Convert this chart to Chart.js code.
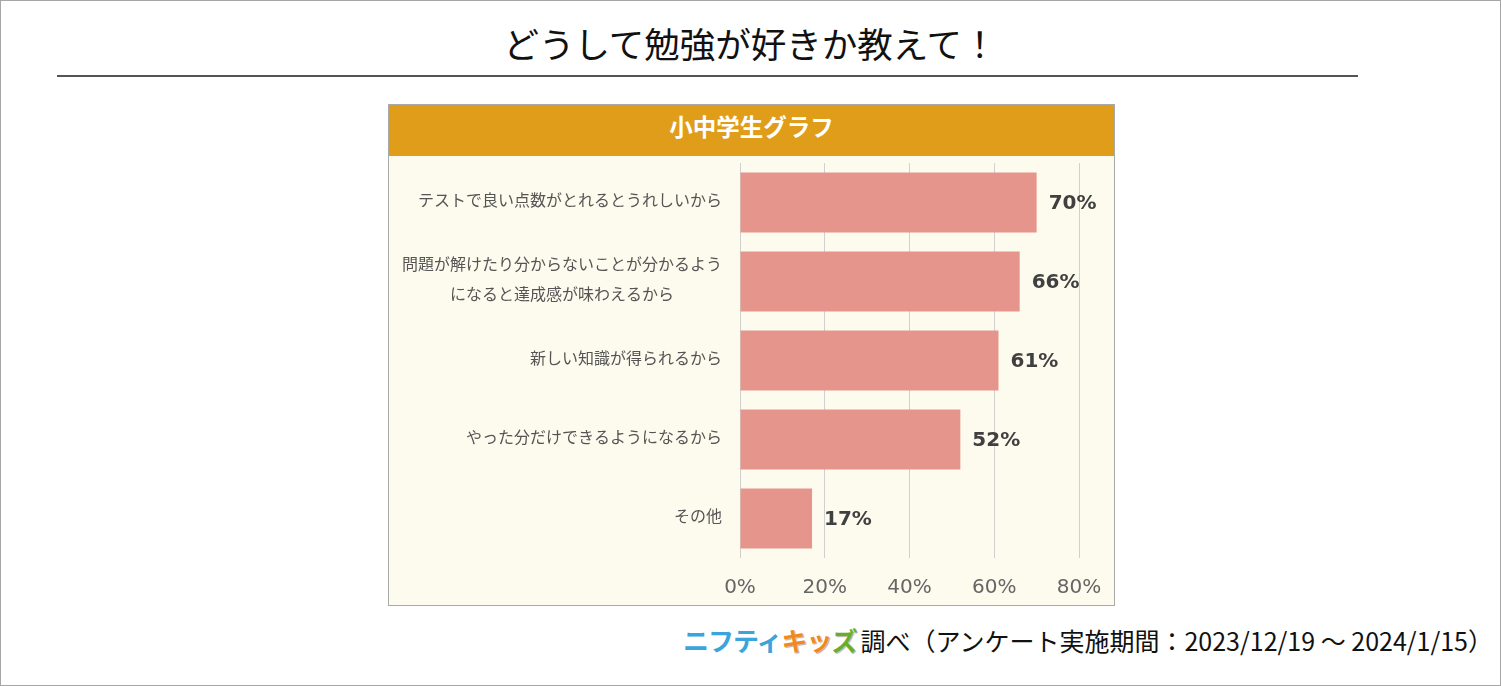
<!DOCTYPE html>
<html lang="ja">
<head>
<meta charset="utf-8">
<title>どうして勉強が好きか教えて！</title>
<script src="https://cdn.jsdelivr.net/npm/chart.js@4/dist/chart.umd.min.js"></script>
<style>
  html, body { margin: 0; padding: 0; background: #fff; }
  .page {
    position: relative; width: 1501px; height: 686px; box-sizing: border-box;
    border: 1px solid #a6a6a6; font-family: "Noto Sans CJK JP", "Noto Sans", sans-serif;
  }
  .title {
    position: absolute; left: 0; right: 0; top: 17px; text-align: center;
    font-size: 35.5px; line-height: 50px; color: #111;
  }
  .rule { position: absolute; left: 56px; width: 1301px; top: 74px; height: 0; border-top: 2px solid #555; }
  .box {
    position: absolute; left: 387px; top: 103px; width: 727px; height: 502px; box-sizing: border-box;
    border: 1px solid #a9a9a9; background: #fdfbee;
  }
  .box-head {
    height: 51px; background: #e09d1a; color: #fff; text-align: center;
    font-size: 23.5px; font-weight: 700; line-height: 43px;
  }
  .chart-wrap { position: relative; width: 724px; height: 448px; }
  .footer {
    position: absolute; right: 7px; top: 619px; font-size: 25px; line-height: 40px; color: #111;
    white-space: nowrap;
  }
  .logo { font-weight: 700; font-size: 26px; letter-spacing: -1px; margin-right: 4px; }
  .logo .n { color: #3ba4dc; }
  .logo .k { color: #f08a1e; text-shadow: 0 0 2px #fff, 1px 1px 1px #9a9a9a; }
  .logo .z { color: #69ad2b; text-shadow: 0 0 2px #fff, 1px 1px 1px #9a9a9a; }
</style>
</head>
<body>
<div class="page">
  <div class="title">どうして勉強が好きか教えて！</div>
  <div class="rule"></div>
  <div class="box">
    <div class="box-head">小中学生グラフ</div>
    <div class="chart-wrap"><canvas id="reasonChart"></canvas></div>
  </div>
  <div class="footer"><span class="logo"><span class="n">ニフティ</span><span class="k">キッ</span><span class="z">ズ</span></span>調べ（アンケート実施期間：2023/12/19 ～ 2024/1/15）</div>
</div>
<script>
const categories = [
  'テストで良い点数がとれるとうれしいから',
  ['問題が解けたり分からないことが分かるよう', 'になると達成感が味わえるから'],
  '新しい知識が得られるから',
  'やった分だけできるようになるから',
  'その他'
];
const percentValues = [70, 66, 61, 52, 17];
const axisTicks = [0, 20, 40, 60, 80];

// category labels: right edge at a fixed x, multi-line blocks centered
const categoryLabels = {
  id: 'categoryLabels',
  afterDraw(chart) {
    const ctx = chart.ctx;
    const y = chart.scales.y;
    const right = chart.chartArea.left - 18;
    ctx.save();
    ctx.font = '16px "Noto Sans CJK JP", sans-serif';
    ctx.fillStyle = '#555';
    ctx.textBaseline = 'middle';
    ctx.textAlign = 'center';
    categories.forEach((label, i) => {
      const lines = Array.isArray(label) ? label : [label];
      const maxW = Math.max(...lines.map(l => ctx.measureText(l).width));
      const cx = right - maxW / 2;
      const cy = y.getPixelForTick(i) - 3;
      lines.forEach((l, j) => {
        ctx.fillText(l, cx, cy + (j - (lines.length - 1) / 2) * 30);
      });
    });
    ctx.restore();
  }
};

const valueLabels = {
  id: 'valueLabels',
  afterDatasetsDraw(chart) {
    const ctx = chart.ctx;
    const meta = chart.getDatasetMeta(0);
    ctx.save();
    ctx.font = 'bold 20px "DejaVu Sans", sans-serif';
    ctx.fillStyle = '#404040';
    ctx.textAlign = 'left';
    ctx.textBaseline = 'middle';
    meta.data.forEach((bar, i) => {
      ctx.fillText(percentValues[i] + '%', bar.x + 12, bar.y + 1);
    });
    ctx.restore();
  }
};

new Chart(document.getElementById('reasonChart'), {
  type: 'bar',
  data: {
    labels: categories,
    datasets: [{
      data: percentValues,
      backgroundColor: '#e5958b',
      barPercentage: 0.76,
      categoryPercentage: 1
    }]
  },
  options: {
    indexAxis: 'y',
    responsive: true,
    maintainAspectRatio: false,
    animation: false,
    layout: { padding: { top: 7, right: 34, left: 0, bottom: 0 } },
    plugins: { legend: { display: false }, tooltip: { enabled: false } },
    scales: {
      x: {
        min: axisTicks[0],
        max: axisTicks[axisTicks.length - 1],
        afterBuildTicks: s => { s.ticks = axisTicks.map(v => ({ value: v })); },
        afterFit: s => { s.height = 46; s.paddingLeft = 0; s.paddingRight = 0; },
        grid: { color: '#d0d0d0', drawTicks: false },
        border: { display: false },
        ticks: {
          padding: 18,
          color: '#666',
          font: { family: '"DejaVu Sans", sans-serif', size: 20 },
          callback: v => v + '%'
        }
      },
      y: {
        afterFit: s => { s.width = 351; },
        grid: { display: false },
        border: { display: false },
        ticks: { display: false }
      }
    }
  },
  plugins: [categoryLabels, valueLabels]
});
</script>
</body>
</html>
